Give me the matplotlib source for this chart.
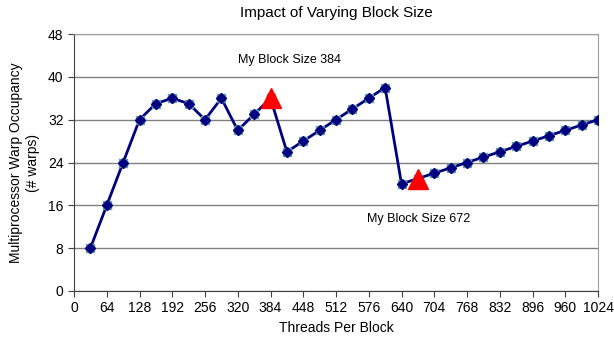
import matplotlib
matplotlib.use("Agg")
import matplotlib.pyplot as plt

threads = [32, 64, 96, 128, 160, 192, 224, 256, 288, 320, 352, 384, 416, 448, 480, 512,
           544, 576, 608, 640, 672, 704, 736, 768, 800, 832, 864, 896, 928, 960, 992, 1024]
occupancy = [8, 16, 24, 32, 35, 36, 35, 32, 36, 30, 33, 36, 26, 28, 30, 32,
             34, 36, 38, 20, 21, 22, 23, 24, 25, 26, 27, 28, 29, 30, 31, 32]
my_sizes = [384, 672]
my_occ = [36, 21]
annotations = ["My Block Size 384", "My Block Size 672"]
xticks = list(range(0, 1025, 64))
yticks = list(range(0, 49, 8))

plt.rcParams['font.family'] = ['Liberation Sans', 'DejaVu Sans']

fig = plt.figure(figsize=(6.14, 3.43), dpi=100)
ax = fig.add_axes([74/614, 1-291/343, 524/614, 257/343])

ax.set_xlim(0, 1024)
ax.set_ylim(0, 48)
ax.set_xticks(xticks)
ax.set_yticks(yticks)
ax.tick_params(axis='both', labelsize=10, length=4, color='#404040', direction='out')
ax.yaxis.grid(True, color='#808080', linewidth=1)
ax.set_axisbelow(True)
for s in ['top', 'right']:
    ax.spines[s].set_color('#a0a0a0')
for s in ['left', 'bottom']:
    ax.spines[s].set_color('#404040')

ax.plot(threads, occupancy, color='#000080', linewidth=2, zorder=3)
ax.plot(threads, occupancy, linestyle='none', marker='s', markersize=5.5,
        color='#5f9ea0', zorder=4)
ax.plot(threads, occupancy, linestyle='none', marker='D', markersize=5,
        color='#000080', zorder=5)
ax.plot(my_sizes, my_occ, linestyle='none', marker='^', markersize=14,
        color='#ff0000', zorder=6)

ax.text(422, 43.1, annotations[0], fontsize=9, ha='center', va='center')
ax.text(674, 13.4, annotations[1], fontsize=9, ha='center', va='center')

ax.set_title("Impact of Varying Block Size", fontsize=11, pad=12)
ax.set_xlabel("Threads Per Block", fontsize=10)
ax.set_ylabel("Multiprocessor Warp Occupancy\n(# warps)", fontsize=10, labelpad=6)

fig.savefig("out.png", dpi=100)
